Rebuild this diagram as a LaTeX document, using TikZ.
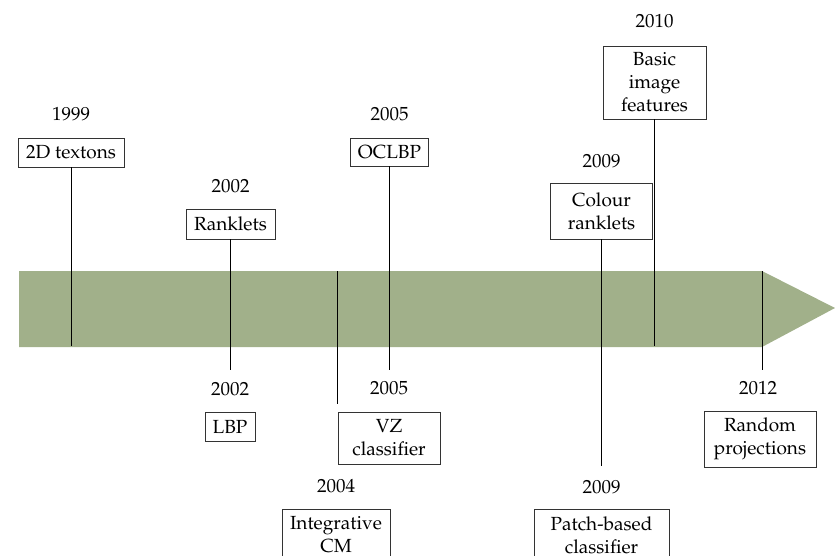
\documentclass[tikz,border=0pt]{standalone}
\usepackage[T1]{fontenc}
\usepackage{mathpazo}
\definecolor{bandgreen}{RGB}{161,176,138}
\begin{document}
\begin{tikzpicture}[x=1pt,y=-1pt,
  box/.style={draw=black!80, line width=0.8pt, align=center, inner sep=0pt,
    font=\fontsize{19}{23}\selectfont},
  year/.style={anchor=base, inner sep=0pt, font=\fontsize{19}{23}\selectfont},
  tick/.style={draw=black, line width=1pt}]
\useasboundingbox (0,0) rectangle (835,556);
% band
\fill[bandgreen] (19,271) -- (762,271) -- (835,308) -- (762,347) -- (19,347) -- cycle;
% upper boxes
\node[box, minimum width=106, minimum height=29] (textons) at (71,152.5) {2D textons};
\node[year] (y1999) at (71,121) {1999};
\node[box, minimum width=89, minimum height=30] (ranklets) at (230.5,224) {Ranklets};
\node[year] (y2002a) at (230.5,193) {2002};
\node[box, minimum width=78, minimum height=28] (oclbp) at (389.5,152) {OCLBP};
\node[year] (y2005a) at (389.5,121) {2005};
\node[box, minimum width=102, minimum height=56] (colour) at (601.5,211) {Colour\\ranklets};
\node[year] (y2009a) at (601.5,168) {2009};
\node[box, minimum width=103, minimum height=73] (basic) at (654.5,82.5) {Basic\\image\\features};
\node[year] (y2010) at (654.5,28) {2010};
% lower boxes
\node[box, minimum width=50, minimum height=29] (lbp) at (230,426.5) {LBP};
\node[year] (y2002b) at (230,395) {2002};
\node[box, minimum width=102, minimum height=52] (vz) at (389,438) {VZ\\classifier};
\node[year] (y2005b) at (389,394) {2005};
\node[box, minimum width=108, minimum height=52] (integ) at (336,535) {Integrative\\CM};
\node[year] (y2004) at (336,492) {2004};
\node[box, minimum width=135, minimum height=52] (patch) at (601.5,535) {Patch-based\\classifier};
\node[year] (y2009b) at (601.5,493) {2009};
\node[box, minimum width=112, minimum height=56] (random) at (760,439) {Random\\projections};
\node[year] (y2012) at (758,394) {2012};
% tick coordinates
\coordinate (e1999) at (71,346);
\coordinate (e2002) at (230.5,370);
\coordinate (s2004) at (337,271);
\coordinate (e2004) at (337,404);
\coordinate (e2005) at (389.5,370);
\coordinate (e2009) at (601.5,466);
\coordinate (e2010) at (654.5,346);
\coordinate (s2012) at (762,271);
\coordinate (e2012) at (762,370);
% ticks
\draw[tick] (textons.south) -- (e1999);
\draw[tick] (ranklets.south) -- (e2002);
\draw[tick] (s2004) -- (e2004);
\draw[tick] (oclbp.south) -- (e2005);
\draw[tick] (colour.south) -- (e2009);
\draw[tick] (basic.south) -- (e2010);
\draw[tick] (s2012) -- (e2012);
\end{tikzpicture}
\end{document}
